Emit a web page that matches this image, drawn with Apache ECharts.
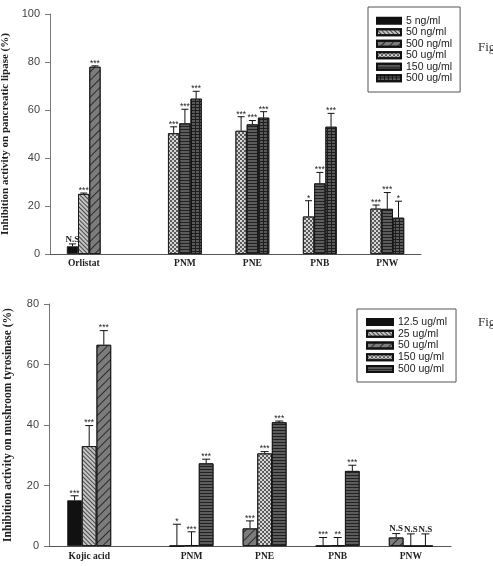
<!DOCTYPE html>
<html>
<head>
<meta charset="utf-8">
<script src="https://cdn.jsdelivr.net/npm/echarts@6/dist/echarts.min.js"></script>
<style>
  body { margin: 0; background: #fff; }
  #lipase, #tyrosinase { width: 493px; height: 283px; }
</style>
</head>
<body>
<div id="lipase"></div>
<div id="tyrosinase"></div>
<script>
// 上图: 胰脂肪酶抑制
const lipaseCategories = ['Orlistat', 'PNM', 'PNE', 'PNB', 'PNW'];
const lipaseSeriesNames = ['5 ng/ml', '50 ng/ml', '500 ng/ml', '50 ug/ml', '150 ug/ml', '500 ug/ml'];
const lipaseValues = [
    [3.2, null, null, null, null],
    [25.0, null, null, null, null],
    [78.0, null, null, null, null],
    [null, 50.3, 51.3, 15.6, 18.9],
    [null, 54.4, 54.0, 29.4, 18.8],
    [null, 64.7, 56.8, 53.0, 15.1]
];
const lipaseErrors = [
    [1.0, null, null, null, null],
    [0.4, null, null, null, null],
    [0.4, null, null, null, null],
    [null, 2.7, 5.9, 6.6, 1.5],
    [null, 5.9, 1.6, 4.6, 6.8],
    [null, 3.1, 2.5, 5.6, 6.9]
];
const lipaseMarks = [
    ['N.S', null, null, null, null],
    ['***', null, null, null, null],
    ['***', null, null, null, null],
    [null, '***', '***', '*', '***'],
    [null, '***', '***', '***', '***'],
    [null, '***', '***', '***', '*']
];
const lipaseTicks = [0, 20, 40, 60, 80, 100];

// 下图: 酪氨酸酶抑制
const tyrCategories = ['Kojic acid', 'PNM', 'PNE', 'PNB', 'PNW'];
const tyrSeriesNames = ['12.5 ug/ml', '25 ug/ml', '50 ug/ml', '150 ug/ml', '500 ug/ml'];
const tyrValues = [
    [15.1, null, null, null, null],
    [33.0, null, null, null, null],
    [66.5, 0, 5.8, 0, 2.8],
    [null, 0.3, 30.6, 0.2, 0],
    [null, 27.3, 40.9, 24.8, 0]
];
const tyrErrors = [
    [1.5, null, null, null, null],
    [6.8, null, null, null, null],
    [4.7, 7.2, 2.5, 2.8, 1.3],
    [null, 4.4, 0.6, 2.6, 4.0],
    [null, 1.4, 0.4, 1.9, 4.0]
];
const tyrMarks = [
    ['***', null, null, null, null],
    ['***', null, null, null, null],
    ['***', '*', '***', '***', 'N.S'],
    [null, '***', '***', '**', 'N.S'],
    [null, '***', '***', '***', 'N.S']
];
const tyrTicks = [0, 20, 40, 60, 80];

// 填充样式 (decal)
const lipaseStyles = [
    { color: '#111' },
    { color: '#c4c4c4', decal: { symbol: 'rect', color: '#4a4a4a', dashArrayX: [1, 0], dashArrayY: [1, 2], rotation: Math.PI / 4, symbolSize: 1 } },
    { color: '#7c7c7c', decal: { symbol: 'rect', color: '#2a2a2a', dashArrayX: [1, 0], dashArrayY: [1, 5], rotation: -Math.PI / 4, symbolSize: 1 } },
    { color: '#d6d6d6', decal: { symbol: 'rect', color: '#5a5a5a', dashArrayX: [[2, 2], [0, 2, 2, 0]], dashArrayY: [2, 0], symbolSize: 1 } },
    { color: '#5c5c5c', decal: { symbol: 'rect', color: '#222', dashArrayX: [1, 0], dashArrayY: [1, 2], symbolSize: 1 } },
    { color: '#1e1e1e', decal: { symbol: 'rect', color: '#5a5a5a', dashArrayX: [3, 1], dashArrayY: [2, 1], symbolSize: 1 } }
];
const tyrStyles = [lipaseStyles[0], lipaseStyles[1], lipaseStyles[2], lipaseStyles[3], lipaseStyles[4]];

function buildOption(cfg) {
    const n = cfg.names.length;
    const slot = 1 / n;

    // 每组标签放在有数据的柱子中间
    const labelPos = cfg.categories.map((c, i) => {
        const used = [];
        cfg.values.forEach((row, s) => { if (row[i] !== null) used.push(s); });
        const mean = used.reduce((a, b) => a + b, 0) / used.length;
        return +(i + 1 + (mean - (n - 1) / 2) * slot).toFixed(4);
    });

    const series = [];
    cfg.names.forEach((name, s) => {
        const data = [];
        cfg.values[s].forEach((v, i) => { if (v !== null) data.push([i + 1, v]); });
        series.push({
            name: name,
            type: 'bar',
            barGap: '0%',
            barCategoryGap: '0%',
            itemStyle: Object.assign({ borderColor: '#111', borderWidth: 0.8 }, cfg.styles[s]),
            emphasis: { disabled: true },
            data: data
        });
    });

    // 误差线 + 显著性标记
    const errData = [];
    const errMarks = [];
    cfg.names.forEach((name, s) => {
        cfg.values[s].forEach((v, i) => {
            if (v === null) return;
            const x = i + 1 + (s - (n - 1) / 2) * slot;
            errData.push([x, v, v + cfg.errors[s][i]]);
            errMarks.push(cfg.marks[s][i]);
        });
    });
    series.push({
        type: 'custom',
        silent: true,
        encode: { x: 0, y: 2 },
        data: errData,
        z: 5,
        renderItem: function (params, api) {
            const base = api.coord([api.value(0), api.value(1)]);
            const tip = api.coord([api.value(0), api.value(2)]);
            const half = cfg.cap / 2;
            const mark = errMarks[params.dataIndex];
            const isNS = mark === 'N.S';
            return {
                type: 'group',
                children: [
                    { type: 'line', shape: { x1: tip[0], y1: base[1], x2: tip[0], y2: tip[1] }, style: { stroke: '#111', lineWidth: 1 } },
                    { type: 'line', shape: { x1: tip[0] - half, y1: tip[1], x2: tip[0] + half, y2: tip[1] }, style: { stroke: '#111', lineWidth: 1 } },
                    {
                        type: 'text', x: tip[0], y: tip[1] + (isNS ? 0 : 2),
                        style: {
                            text: mark || '',
                            align: 'center', verticalAlign: 'bottom',
                            font: isNS ? 'bold 9px "Liberation Serif"' : '8.5px "Liberation Sans"',
                            fill: '#222'
                        }
                    }
                ]
            };
        }
    });

    return {
        animation: false,
        grid: Object.assign({ outerBoundsMode: 'none', containLabel: false }, cfg.grid),
        legend: Object.assign({
            orient: 'vertical',
            icon: 'rect',
            itemGap: 0,
            itemHeight: 6,
            borderColor: '#555',
            borderWidth: 1,
            borderRadius: 0,
            selectedMode: false,
            textStyle: { fontFamily: 'Liberation Sans', fontSize: 10.5, color: '#222', lineHeight: cfg.legendLine },
            data: cfg.names
        }, cfg.legend),
        xAxis: {
            type: 'value',
            min: 0.25,
            max: 5.75,
            splitLine: { show: false },
            axisTick: { show: false },
            axisLine: { lineStyle: { color: '#555', width: 1 } },
            axisLabel: {
                customValues: labelPos,
                margin: cfg.xLabelMargin,
                fontFamily: 'Liberation Serif',
                fontWeight: 'bold',
                fontSize: 9.5,
                color: '#222',
                formatter: function (v) {
                    const k = labelPos.findIndex(p => Math.abs(p - v) < 1e-6);
                    return k >= 0 ? cfg.categories[k] : '';
                }
            }
        },
        yAxis: {
            type: 'value',
            min: cfg.ticks[0],
            max: cfg.ticks[cfg.ticks.length - 1],
            interval: cfg.ticks[1] - cfg.ticks[0],
            splitLine: { show: false },
            axisLine: { show: true, lineStyle: { color: '#777', width: 1 } },
            axisTick: { show: true, length: 5, lineStyle: { color: '#777' } },
            axisLabel: { margin: 10, fontFamily: 'Liberation Sans', fontSize: 11, color: '#444' },
            name: cfg.yTitle,
            nameLocation: 'middle',
            nameGap: cfg.nameGap,
            nameTextStyle: { fontFamily: 'Liberation Serif', fontWeight: 'bold', fontSize: cfg.titleSize, color: '#222' }
        },
        graphic: [{
            type: 'text', left: 478, top: cfg.figTop,
            style: { text: 'Fig', font: '13px "Liberation Serif"', fill: '#333' }
        }],
        series: series
    };
}

const lipaseChart = echarts.init(document.getElementById('lipase'), null, { renderer: 'canvas' });
lipaseChart.setOption(buildOption({
    categories: lipaseCategories,
    names: lipaseSeriesNames,
    values: lipaseValues,
    errors: lipaseErrors,
    marks: lipaseMarks,
    ticks: lipaseTicks,
    styles: lipaseStyles,
    cap: 7,
    grid: { left: 50, right: 72, top: 14, bottom: 29 },
    legend: { left: 368, top: 7, padding: [8, 8, 8, 8], itemWidth: 24 },
    legendLine: 11.5,
    xLabelMargin: 5,
    yTitle: 'Inhibition activity on pancreatic lipase (%)',
    titleSize: 11,
    nameGap: 34,
    figTop: 41
}));

const tyrChart = echarts.init(document.getElementById('tyrosinase'), null, { renderer: 'canvas' });
tyrChart.setOption(buildOption({
    categories: tyrCategories,
    names: tyrSeriesNames,
    values: tyrValues,
    errors: tyrErrors,
    marks: tyrMarks,
    ticks: tyrTicks,
    styles: tyrStyles,
    cap: 8,
    grid: { left: 49, right: 42, top: 21, bottom: 20 },
    legend: { left: 357, top: 26, padding: [7, 9, 7, 9], itemWidth: 26 },
    legendLine: 11.8,
    xLabelMargin: 6,
    yTitle: 'Inhibition activity on mushroom tyrosinase (%)',
    titleSize: 11.5,
    nameGap: 35,
    figTop: 33
}));
</script>
</body>
</html>
